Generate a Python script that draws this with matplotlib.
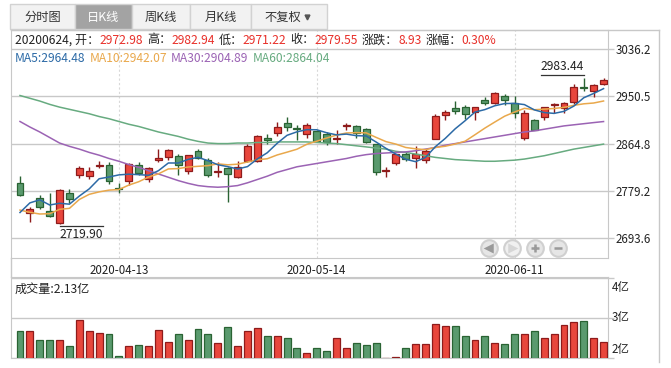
import matplotlib
matplotlib.use('Agg')
import matplotlib.pyplot as plt
from matplotlib.patches import Rectangle
import numpy as np
import pandas as pd

plt.rcParams['font.family'] = ['Noto Sans CJK SC', 'DejaVu Sans']

# ---- data (SSE composite, daily K, 2020-03-27 .. 2020-06-24) ----
prior_close = [2789.25, 2779.64, 2728.76, 2702.13, 2745.62, 2660.17, 2722.44, 2781.59, 2764.91]

open_ = [2793, 2740, 2767, 2743, 2722, 2775, 2809, 2807, 2824, 2827,
         2785, 2797, 2826, 2801, 2836, 2841, 2843, 2815, 2851, 2836,
         2814, 2820, 2804, 2834, 2833, 2876, 2885, 2902, 2893, 2883,
         2887, 2882, 2874, 2897, 2896, 2891, 2864, 2816, 2829, 2847,
         2839, 2836, 2874, 2917, 2929, 2932, 2922, 2943, 2938, 2952,
         2939, 2875, 2908, 2914, 2934, 2929, 2940, 2967, 2961, 2972.98]
high = [2806, 2751, 2772, 2775, 2782, 2782, 2824, 2822, 2833, 2832,
        2794, 2829, 2831, 2823, 2856, 2855, 2846, 2845, 2855, 2839,
        2832, 2823, 2833, 2865, 2880, 2882, 2904, 2914, 2898, 2902,
        2890, 2886, 2890, 2903, 2898, 2893, 2865, 2823, 2847, 2849,
        2861, 2855, 2918, 2926, 2942, 2934, 2931.5, 2950, 2958, 2954,
        2952, 2926, 2909, 2932, 2938, 2941, 2973, 2983.44, 2972, 2982.94]
low = [2771, 2723, 2747, 2732, 2719.90, 2757, 2802, 2801, 2820, 2792,
       2776, 2790, 2808, 2796, 2832, 2835, 2809, 2810, 2837, 2804,
       2804, 2759, 2802, 2832, 2831, 2865, 2879, 2887, 2872, 2876,
       2868, 2862, 2864, 2889, 2876, 2866, 2808, 2804, 2826, 2833,
       2820, 2830, 2873, 2907, 2919, 2910, 2908, 2934, 2936, 2935,
       2912, 2871, 2889, 2908, 2920, 2920, 2937, 2960, 2950, 2971.22]
close = [2772.20, 2747.21, 2750.30, 2734.52, 2780.64, 2763.99, 2820.76, 2815.37, 2825.90, 2796.63,
         2783.05, 2827.28, 2811.17, 2819.94, 2838.49, 2852.55, 2827.01, 2843.98, 2838.50, 2808.53,
         2815.49, 2810.02, 2822.44, 2860.08, 2878.14, 2871.52, 2895.34, 2894.80, 2891.56, 2898.05,
         2870.34, 2868.46, 2875.42, 2898.58, 2883.74, 2867.92, 2813.77, 2817.97, 2846.55, 2836.80,
         2846.22, 2852.35, 2915.43, 2921.40, 2923.37, 2919.25, 2930.80, 2937.77, 2956.11, 2943.32,
         2920.90, 2919.74, 2890.03, 2931.75, 2935.87, 2939.32, 2967.63, 2965.27, 2970.62, 2979.55]

ma30 = [2905, 2895, 2886, 2876, 2866, 2860, 2855, 2849, 2844, 2838,
        2833, 2827, 2822, 2816, 2810, 2804, 2798, 2793, 2789, 2787,
        2786, 2787, 2789, 2794, 2800, 2806, 2813, 2818, 2823, 2826,
        2829, 2832, 2835, 2838, 2842, 2845, 2847, 2848, 2849, 2850,
        2852, 2855, 2858, 2862, 2865, 2868, 2871, 2874, 2877, 2880,
        2883, 2886, 2888, 2891, 2894, 2897, 2899, 2901, 2903, 2904.89]
ma60 = [2952, 2947, 2942, 2936, 2931, 2927, 2923, 2919, 2914, 2910,
        2905, 2900, 2896, 2891, 2886, 2882, 2878, 2873, 2869, 2866,
        2865, 2865, 2866, 2866, 2867, 2867, 2868, 2868, 2868, 2868,
        2867, 2866, 2865, 2863, 2861, 2859, 2857, 2855, 2851, 2849,
        2846, 2843, 2840, 2838, 2836, 2835, 2834, 2833, 2833, 2834,
        2835, 2837, 2840, 2843, 2847, 2851, 2855, 2858, 2861, 2864.04]

# volume bar heights on the 亿 axis
volume = [2.67, 2.67, 2.46, 2.44, 2.44, 2.29, 2.95, 2.68, 2.63, 2.59,
          2.05, 2.29, 2.32, 2.29, 2.71, 2.39, 2.59, 2.44, 2.73, 2.61,
          2.37, 2.78, 2.29, 2.68, 2.76, 2.54, 2.54, 2.51, 2.24, 2.12,
          2.24, 2.17, 2.51, 2.24, 2.37, 2.32, 2.37, 2.005, 2.02, 2.24,
          2.34, 2.34, 2.85, 2.80, 2.80, 2.54, 2.44, 2.56, 2.37, 2.34,
          2.59, 2.61, 2.68, 2.49, 2.61, 2.83, 2.90, 2.93, 2.51, 2.39]
vol_latest = 2.13  # as printed in the panel header

date_idx = [10, 30, 50]
date_labels = ['2020-04-13', '2020-05-14', '2020-06-11']
price_ticks = [2693.6, 2779.2, 2864.8, 2950.5, 3036.2]
vol_ticks = [2, 3, 4]
vol_labels = ['2亿', '3亿', '4亿']
tabs = ['分时图', '日K线', '周K线', '月K线', '不复权']

RED_FILL, RED_EDGE = '#e8463c', '#8e1b1b'
GRN_FILL, GRN_EDGE = '#5a9a6e', '#2a6333'
GRID = '#c8c8c8'
TXT = '#222222'
TXT_RED = '#e8302a'
C_MA = ['#2c6aa6', '#e9a84c', '#9b63b4', '#67ab80']
FS = 8.3
FS_HEAD = 8.7

o = np.array(open_); h = np.array(high); l = np.array(low); c = np.array(close)
x = np.arange(len(c))
all_close = pd.Series(prior_close + close)
ma5 = all_close.rolling(5).mean().values[len(prior_close):]
ma10 = all_close.rolling(10).mean().values[len(prior_close):]

W, H = 671, 368
fig = plt.figure(figsize=(W / 100, H / 100), dpi=100)


def px_axes(left, top, right, bottom, z):
    a = fig.add_axes([left / W, 1 - bottom / H, (right - left) / W, (bottom - top) / H], zorder=z)
    a.patch.set_alpha(0)
    return a


bg = px_axes(0, 0, W, H, 0)
bg.set_xlim(0, W); bg.set_ylim(H, 0); bg.axis('off')
ax = px_axes(11, 30, 608, 258, 1)
axv = px_axes(11, 277, 608, 358, 1)
top = px_axes(0, 0, W, H, 3)
top.set_xlim(0, W); top.set_ylim(H, 0); top.axis('off')

# ---- tabs ----
tab_edges = [10, 75, 132, 190, 251, 327]
for i, name in enumerate(tabs):
    sel = i == 1
    bg.add_patch(Rectangle((tab_edges[i], 4), tab_edges[i + 1] - tab_edges[i], 25,
                           facecolor='#a3a3a3' if sel else '#f2f2f2', edgecolor='#d2d2d2', lw=1))
    cx = (tab_edges[i] + tab_edges[i + 1]) / 2
    if i == 4:
        bg.text(cx - 6, 17, name, ha='center', va='center', fontsize=8.8, color='#333333')
        bg.plot(cx + 18, 17, marker='v', ms=3.5, color='#555555')
    else:
        bg.text(cx, 17, name, ha='center', va='center', fontsize=8.8,
                color='white' if sel else '#333333')

# frame lines
bg.plot([11, 659], [30, 30], color=GRID, lw=1)
bg.plot([659, 659], [30, 362], color=GRID, lw=1)
bg.plot([11, 11], [258, 277], color=GRID, lw=1)

# ---- price panel ----
up = c >= o
ax.vlines(x, l, h, colors=np.where(up, RED_EDGE, GRN_EDGE), lw=1, zorder=2)
body = np.maximum(np.abs(c - o), 0.8)
ax.bar(x, body, bottom=np.minimum(o, c), width=0.7,
       color=np.where(up, RED_FILL, GRN_FILL), edgecolor=np.where(up, RED_EDGE, GRN_EDGE),
       lw=0.9, zorder=3)
for ma, col in zip([ma60, ma30, ma10, ma5], C_MA[::-1]):
    ax.plot(x, ma, color=col, lw=1.1, zorder=4)

ax.set_xlim(-0.91, 59.45)
ax.set_ylim(2657.9, 3070.6)
ax.yaxis.tick_right()
ax.set_yticks(price_ticks)
ax.set_yticklabels([f'{v:.1f}' for v in price_ticks])
ax.tick_params(axis='y', length=4, width=1, color=GRID, pad=1.5, labelsize=FS, labelcolor=TXT)
ax.set_xticks(date_idx)
ax.set_xticklabels(date_labels)
ax.tick_params(axis='x', length=0, pad=4, labelsize=FS, labelcolor=TXT)
ax.yaxis.grid(True, color=GRID, lw=1)
ax.xaxis.grid(True, color='#d9d9d9', lw=0.8, ls=(0, (2, 2)))
ax.set_axisbelow(True)
for s in ax.spines.values():
    s.set_color(GRID)

# ---- volume panel ----
axv.bar(x, volume, width=0.7, color=np.where(up, RED_FILL, GRN_FILL),
        edgecolor=np.where(up, RED_EDGE, GRN_EDGE), lw=0.9, zorder=3)
axv.set_xlim(-0.91, 59.45)
axv.set_ylim(2, 4.02)
axv.yaxis.tick_right()
axv.set_yticks(vol_ticks)
axv.set_yticklabels([])
axv.set_xticks([])
axv.tick_params(axis='y', length=4, width=1, color=GRID)
axv.yaxis.grid(True, color=GRID, lw=1)
axv.set_axisbelow(True)
for s in axv.spines.values():
    s.set_color(GRID)
for v, lab, va, dy in zip(vol_ticks, vol_labels, ['bottom', 'center', 'top'], [2, 0, -3]):
    axv.annotate(lab, xy=(1, v), xycoords=('axes fraction', 'data'), xytext=(4, dy),
                 textcoords='offset pixels', va=va, ha='left', fontsize=FS, color=TXT)

# ---- header texts ----
fig.canvas.draw()
r = fig.canvas.get_renderer()


def chain(xp, yp, parts, size):
    for s, col in parts:
        if s == ' ':
            xp += 4
            continue
        t = top.text(xp, yp, s, color=col, fontsize=size, va='center', ha='left')
        xp += t.get_window_extent(renderer=r).width


chain(15, 40, [('20200624, 开：', TXT), (f'{o[-1]:.2f}', TXT_RED), (' ', None),
               ('高：', TXT), (f'{h[-1]:.2f}', TXT_RED), (' ', None),
               ('低：', TXT), (f'{l[-1]:.2f}', TXT_RED), (' ', None),
               ('收：', TXT), (f'{c[-1]:.2f}', TXT_RED), (' ', None),
               ('涨跌：', TXT), (f'{c[-1] - c[-2]:.2f}', TXT_RED), (' ', None),
               ('涨幅：', TXT), (f'{(c[-1] - c[-2]) / c[-2] * 100:.2f}%', TXT_RED)], FS_HEAD)
chain(15, 58, [(f'MA5:{ma5[-1]:.2f}', C_MA[0]), (' ', None),
               (f'MA10:{ma10[-1]:.2f}', C_MA[1]), (' ', None),
               (f'MA30:{ma30[-1]:.2f}', C_MA[2]), (' ', None),
               (f'MA60:{ma60[-1]:.2f}', C_MA[3])], FS_HEAD)
top.text(15, 289, f'成交量:{vol_latest:.2f}亿', fontsize=FS_HEAD, color=TXT, va='center', ha='left')

# max / min markers
i_hi, i_lo = int(np.argmax(h)), int(np.argmin(l))
px_hi = ax.transData.transform((i_hi, h[i_hi]))
px_lo = ax.transData.transform((i_lo, l[i_lo]))
hx, hy = px_hi[0], H - px_hi[1]
lx, ly = px_lo[0], H - px_lo[1]
t = top.text(hx, hy - 5, f'{h[i_hi]:.2f}', fontsize=FS_HEAD, color=TXT, ha='right', va='bottom')
w = t.get_window_extent(renderer=r).width
top.plot([hx - w, hx], [hy - 3, hy - 3], color='#333333', lw=0.9)
t = top.text(lx, ly + 4, f'{l[i_lo]:.2f}', fontsize=FS_HEAD, color=TXT, ha='left', va='top')
w = t.get_window_extent(renderer=r).width
top.plot([lx, lx + w], [ly + 2, ly + 2], color='#333333', lw=0.9)

# nav buttons
for bx, icon, active in zip([489, 512, 535, 558], ['<', '>', '+', '_'], [True, False, True, True]):
    top.plot(bx, 248, marker='o', ms=12, mfc='#e6e6e6' if active else '#f0f0f0',
             mec='#d0d0d0', mew=1.5)
    top.plot(bx, 248, marker=icon, ms=4 if icon in '<>' else 6, mew=1.8,
             color='#9a9a9a' if active else '#d6d6d6')

fig.savefig('out.png', dpi=100)
